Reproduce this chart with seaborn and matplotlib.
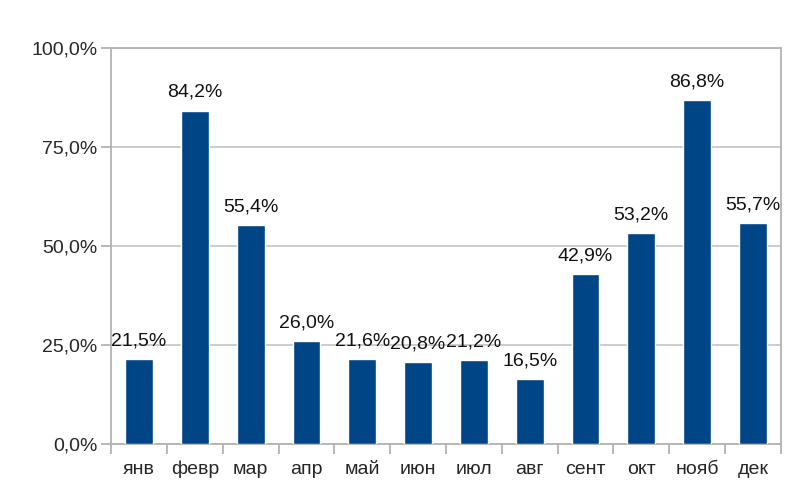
import seaborn as sns
import matplotlib.pyplot as plt
import pandas as pd
from matplotlib.ticker import FuncFormatter, FixedLocator

sns.set_style("white")
plt.rcParams['font.family'] = ['Liberation Sans', 'DejaVu Sans']

months = ['янв', 'февр', 'мар', 'апр', 'май', 'июн', 'июл', 'авг', 'сент', 'окт', 'нояб', 'дек']
values = [21.5, 84.2, 55.4, 26.0, 21.6, 20.8, 21.2, 16.5, 42.9, 53.2, 86.8, 55.7]

df = pd.DataFrame({'month': months, 'value': values})

fig = plt.figure(figsize=(8, 4.99), dpi=100)
ax = fig.add_axes([0.139, 0.110, 0.837, 0.794])

sns.barplot(x='month', y='value', data=df, color='#004586', saturation=1, width=0.5, ax=ax, zorder=3)

for i, v in enumerate(values):
    ax.text(i, v + 2.4, f'{v:.1f}%'.replace('.', ','), ha='center', va='bottom', fontsize=14, color='#111111')

ax.set_ylim(0, 100)
ax.set_xlim(-0.5, len(months) - 0.5)
ax.set_yticks([0, 25, 50, 75, 100])
ax.yaxis.set_major_formatter(FuncFormatter(lambda y, p: f'{y:.1f}%'.replace('.', ',')))
ax.grid(axis='y', color='#c8c8c8', linewidth=1.3, zorder=0)
ax.set_axisbelow(True)

# tick marks between categories
ax.xaxis.set_minor_locator(FixedLocator([i - 0.5 for i in range(len(months) + 1)]))
ax.tick_params(axis='x', which='major', length=0, labelsize=14, pad=12)
ax.tick_params(axis='x', which='minor', length=7, width=1.3, color='#b3b3b3', direction='out', bottom=True)
ax.tick_params(axis='y', length=7, width=1.3, color='#b3b3b3', direction='out', left=True, labelsize=14, pad=3)

for s in ax.spines.values():
    s.set_color('#b3b3b3')
    s.set_linewidth(1.3)

ax.set_xlabel('')
ax.set_ylabel('')

fig.savefig('out.png', dpi=100)
